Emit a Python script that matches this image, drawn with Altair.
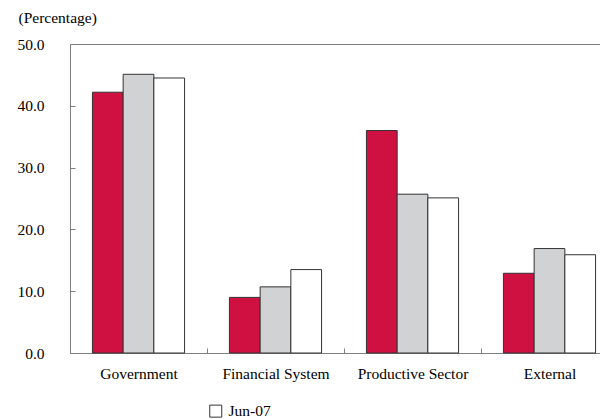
import altair as alt
import pandas as pd

categories = ["Government", "Financial System", "Productive Sector", "External"]
series = ["Dec-05", "Dec-06", "Jun-07"]
dec05 = [42.2, 9.0, 36.0, 12.9]
dec06 = [45.1, 10.7, 25.7, 16.9]
jun07 = [44.5, 13.5, 25.1, 15.9]
colors = ["#cf1141", "#d1d2d4", "#ffffff"]
y_ticks = [0, 10, 20, 30, 40, 50]

rows = []
for s, vals in zip(series, [dec05, dec06, jun07]):
    for c, v in zip(categories, vals):
        rows.append({"category": c, "series": s, "value": v})
df = pd.DataFrame(rows)

FONT = "Liberation Serif"
W, H = 548, 309

chart = alt.Chart(df).mark_bar(stroke="#333333", strokeWidth=1).encode(
    x=alt.X("category:N", sort=categories,
            scale=alt.Scale(paddingInner=0, paddingOuter=0),
            axis=alt.Axis(title=None, labelAngle=0, tickBand="extent", ticks=False,
                          grid=True, gridColor="#808080", gridDash=[5, 304], gridDashOffset=5,
                          domainColor="#808080", labelPadding=13,
                          labelFont=FONT, labelFontSize=15.5, labelColor="#000000")),
    xOffset=alt.XOffset("series:N", sort=series,
                        scale=alt.Scale(paddingInner=0, paddingOuter=0.73)),
    y=alt.Y("value:Q", scale=alt.Scale(domain=[0, 50], nice=False),
            axis=alt.Axis(title="(Percentage)", values=y_ticks, format=".1f", ticks=False,
                          grid=True, gridColor="#808080", gridDash=[5, 1000],
                          domainColor="#808080", labelPadding=26,
                          labelFont=FONT, labelFontSize=15.5, labelColor="#000000",
                          titleAngle=0, titleX=-52, titleY=-27, titleAlign="left",
                          titleBaseline="middle", titleFontWeight="normal",
                          titleFontSize=15.5, titleFont=FONT, titleColor="#000000")),
    fill=alt.Fill("series:N", sort=series,
                  scale=alt.Scale(domain=series, range=colors),
                  legend=alt.Legend(title=None, values=["Dec-05", "Jun-07"], orient="none",
                                    legendX=-136, legendY=359, direction="horizontal",
                                    columns=2, columnPadding=206, symbolType="square",
                                    symbolSize=144, symbolStrokeColor="#333333",
                                    symbolStrokeWidth=1, labelFont=FONT, labelFontSize=15.5,
                                    labelColor="#000000", labelOffset=5)),
).properties(
    width=W, height=H,
    autosize=alt.AutoSizeParams(type="none"),
    padding={"left": 62, "top": 36, "right": -18, "bottom": 66},
).configure(
    background="#ffffff"
).configure_view(
    stroke="#808080", strokeWidth=1
).configure_axis(
    domainWidth=1
)

chart.save("out.html", embed_options={"renderer": "svg", "actions": False})
